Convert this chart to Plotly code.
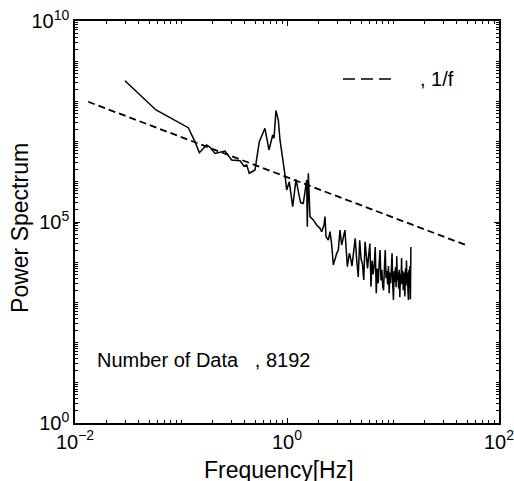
import plotly.graph_objects as go

# ---- data ----
spectrum_freq = [
    0.0296, 0.0581, 0.117, 0.1355, 0.149, 0.1746, 0.188, 0.2094, 0.260, 0.3006,
    0.3606, 0.3926, 0.4168, 0.4406, 0.4989, 0.548, 0.619, 0.676, 0.733, 0.754,
    0.787, 0.828, 0.859, 0.910, 0.957, 0.993, 1.051, 1.132, 1.216, 1.307,
    1.346, 1.425, 1.479, 1.534, 1.554, 1.589, 1.648, 1.771, 1.905, 2.047,
    2.124, 2.233, 2.282, 2.333, 2.453, 2.546, 2.642, 2.735, 2.944, 3.05,
    3.162, 3.28, 3.52, 3.71, 3.87,
    3.95, 4.10, 4.25, 4.40, 4.55, 4.70, 4.85, 5.00, 5.15, 5.30,
    5.45, 5.60, 5.75, 5.90, 6.05, 6.20, 6.35, 6.50, 6.65, 6.80,
    6.95, 7.10, 7.25, 7.40, 7.55, 7.70, 7.85, 8.00, 8.15, 8.30,
    8.45, 8.60, 8.75, 8.90, 9.05, 9.20, 9.35, 9.50, 9.65, 9.80,
    9.95, 10.10, 10.25, 10.40, 10.55, 10.70, 10.85, 11.00, 11.15, 11.30,
    11.45, 11.60, 11.75, 11.90, 12.05, 12.20, 12.35, 12.50, 12.65, 12.80,
    12.95, 13.10, 13.25, 13.40, 13.55, 13.70, 13.85, 14.00, 14.15, 14.30,
    14.45, 14.60, 14.75,
]
spectrum_power = [
    3.27e8, 6.11e7, 2.22e7, 1.0e7, 5.3e6, 8.2e6, 7.2e6, 5.1e6, 5.8e6, 3.5e6,
    3.35e6, 2.47e6, 2.62e6, 1.63e6, 1.97e6, 1.0e7, 2.14e7, 6.2e6, 1.46e7, 1.21e7,
    5.9e7, 3.44e7, 1.1e7, 4.2e6, 1.48e6, 6.25e5, 1.0e6, 2.4e5, 1.15e6, 4.26e5,
    3.0e5, 2.92e5, 6.25e5, 1.11e6, 7.6e4, 1.63e6, 1.36e5, 1.12e5, 8.4e4, 6.97e4,
    5.74e4, 8.4e4, 1.36e5, 4.3e4, 3.56e4, 5.74e4, 2.68e4, 8.5e3, 1.66e4, 2.01e4,
    6.3e4, 2.68e4, 6.3e4, 7.7e3, 1.66e4,
    1.4e4, 8.0e3, 1.6e4, 3.9e4, 1.1e4, 4.3e3, 3.5e4, 1.2e4, 9.0e3, 3.6e3,
    3.2e4, 1.3e4, 7.0e3, 1.5e4, 2.9e4, 2.45e3, 1.1e4, 5.0e3, 8.5e3, 2.4e4,
    1.7e3, 7.0e3, 3.0e3, 9.0e3, 2.0e4, 3.5e3, 6.5e3, 2.5e3, 2.0e3, 7.5e3,
    2.0e4, 4.0e3, 6.0e3, 2.8e3, 8.0e3, 1.7e3, 5.5e3, 3.0e3, 7.0e3, 1.66e4,
    2.6e3, 1.15e3, 6.0e3, 3.2e3, 7.5e3, 2.4e3, 1.4e4, 3.5e3, 5.5e3, 2.2e3,
    6.5e3, 1.35e3, 5.0e3, 2.8e3, 1.27e4, 3.0e3, 6.0e3, 2.0e3, 5.5e3, 3.5e3,
    1.4e3, 7.0e3, 2.6e3, 1.1e4, 3.0e3, 5.5e3, 1.8e3, 1.15e3, 6.5e3, 2.5e3,
    8.0e3, 1.2e3, 2.4e4,
]
fit_freq = [0.0133, 50.0]
fit_power = [9.8e7, 2.6e4]

x_tickvals = [0.01, 1, 100]
x_ticktext = ["10<sup>\u22122</sup>", "10<sup>0</sup>", "10<sup>2</sup>"]
y_tickvals = [1e0, 1e5, 1e10]
y_ticktext = ["10<sup>0</sup>", "10<sup>5</sup>", "10<sup>10</sup>"]

FONT = "Liberation Sans, Arial, sans-serif"

fig = go.Figure()
fig.add_trace(go.Scatter(x=fit_freq, y=fit_power, mode="lines",
                         line=dict(color="black", width=1.8, dash="7px,4px"),
                         showlegend=False))
fig.add_trace(go.Scatter(x=spectrum_freq, y=spectrum_power, mode="lines",
                         line=dict(color="black", width=1.5),
                         showlegend=False))

axis_common = dict(
    showgrid=False, zeroline=False, showline=True, linecolor="black", linewidth=1.5,
    mirror="allticks", ticks="inside", ticklen=5, tickwidth=1, tickcolor="black",
    automargin=False, ticklabeloverflow="allow",
    tickfont=dict(family=FONT, size=20, color="black"),
    minor=dict(ticks="inside", ticklen=3, tickwidth=1, tickcolor="black", dtick="D1", showgrid=False),
)

fig.update_xaxes(type="log", range=[-2, 2], tickmode="array",
                 tickvals=x_tickvals, ticktext=x_ticktext, **axis_common)
fig.update_yaxes(type="log", range=[0, 10], tickmode="array",
                 tickvals=y_tickvals, ticktext=y_ticktext, **axis_common)

# axis titles placed precisely (standoff is ignored without automargin)
fig.add_annotation(xref="paper", yref="paper", x=0.48, y=-0.118, xanchor="center", yanchor="middle",
                   text="Frequency[Hz]", showarrow=False,
                   font=dict(family=FONT, size=23, color="black"))
fig.add_annotation(xref="paper", yref="paper", x=-0.13, y=0.485, xanchor="center", yanchor="middle",
                   text="Power Spectrum", textangle=-90, showarrow=False,
                   font=dict(family=FONT, size=23, color="black"))

# legend key for the 1/f line
fig.add_shape(type="line", xref="paper", yref="paper", x0=0.632, x1=0.747, y0=0.856, y1=0.856,
              line=dict(color="black", width=1.5, dash="12px,6px"))
fig.add_annotation(xref="paper", yref="paper", x=0.809, y=0.856, xanchor="left", yanchor="middle",
                   text=", 1/f", showarrow=False, font=dict(family=FONT, size=20, color="black"))
fig.add_annotation(xref="paper", yref="paper", x=0.048, y=0.157, xanchor="left", yanchor="middle",
                   text="Number of Data   , 8192", showarrow=False,
                   font=dict(family=FONT, size=20, color="black"))

fig.update_layout(width=514, height=481, margin=dict(l=75, r=15, t=21, b=58),
                  paper_bgcolor="white", plot_bgcolor="white",
                  font=dict(family=FONT, color="black"))

# remove the default 8px page margin so the figure fills the window exactly
fig.write_html("out.html", config={"displayModeBar": False},
               post_script="document.body.style.margin='0px';")
